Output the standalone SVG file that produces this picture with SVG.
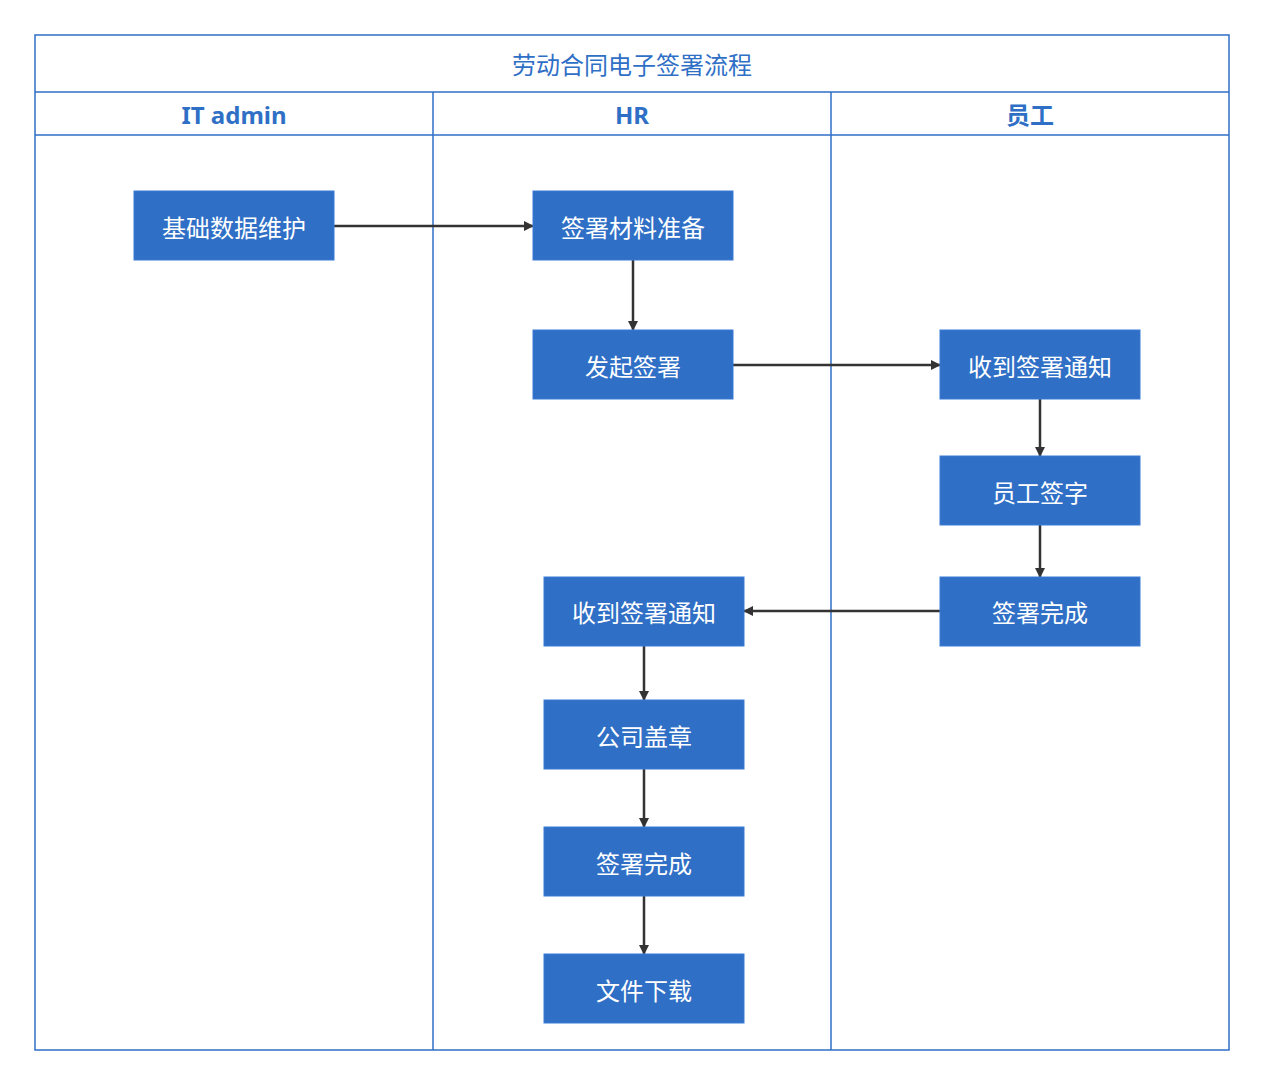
<svg xmlns="http://www.w3.org/2000/svg" width="1265" height="1087" viewBox="0 0 1265 1087">
<style>
.lane{fill:none;stroke:#2f6fc6;stroke-width:1.5}
.n rect{fill:#2f6fc6;stroke:#3a7bd5;stroke-width:1}
.n text{fill:#fff;font-family:"Noto Sans CJK SC",sans-serif;font-size:24px;text-anchor:middle;dominant-baseline:central}
.h{fill:#2f6fc6;font-family:"Noto Sans","Noto Sans CJK SC",sans-serif;text-anchor:middle;dominant-baseline:central}
.c{fill:none;stroke:#333;stroke-width:2.5;marker-end:url(#a)}
</style>
<defs><marker id="a" markerWidth="10" markerHeight="10" refX="9" refY="5" orient="auto" markerUnits="userSpaceOnUse"><path d="M0,0 L10,5 L0,10 z" fill="#333"/></marker></defs>
<rect width="1265" height="1087" fill="#fff"/>
<g id="pool">
<rect class="lane" x="35" y="35" width="1194" height="1015"/>
<line class="lane" x1="35" y1="92" x2="1229" y2="92"/>
<line class="lane" x1="35" y1="135" x2="1229" y2="135"/>
<line class="lane" x1="433" y1="92" x2="433" y2="1050"/>
<line class="lane" x1="831" y1="92" x2="831" y2="1050"/>
<text class="h" x="632" y="64" font-size="24">劳动合同电子签署流程</text>
<text class="h" x="234" y="114" font-size="24" font-weight="bold">IT admin</text>
<text class="h" x="632" y="114" font-size="24" font-weight="bold">HR</text>
<text class="h" x="1030" y="114" font-size="24" font-weight="bold">员工</text>
</g>
<g id="connectors">
<path class="c" d="M334,226 H533"/>
<path class="c" d="M633,260 V330"/>
<path class="c" d="M733,365 H940"/>
<path class="c" d="M1040,399 V456"/>
<path class="c" d="M1040,525 V577"/>
<path class="c" d="M940,611 H744"/>
<path class="c" d="M644,646 V700"/>
<path class="c" d="M644,769 V827"/>
<path class="c" d="M644,896 V954"/>
</g>
<g id="n1" class="n"><rect x="134" y="191" width="200" height="69"/><text x="234" y="226">基础数据维护</text></g>
<g id="n2" class="n"><rect x="533" y="191" width="200" height="69"/><text x="633" y="226">签署材料准备</text></g>
<g id="n3" class="n"><rect x="533" y="330" width="200" height="69"/><text x="633" y="365">发起签署</text></g>
<g id="n4" class="n"><rect x="940" y="330" width="200" height="69"/><text x="1040" y="365">收到签署通知</text></g>
<g id="n5" class="n"><rect x="940" y="456" width="200" height="69"/><text x="1040" y="491">员工签字</text></g>
<g id="n6" class="n"><rect x="940" y="577" width="200" height="69"/><text x="1040" y="611">签署完成</text></g>
<g id="n7" class="n"><rect x="544" y="577" width="200" height="69"/><text x="644" y="611">收到签署通知</text></g>
<g id="n8" class="n"><rect x="544" y="700" width="200" height="69"/><text x="644" y="735">公司盖章</text></g>
<g id="n9" class="n"><rect x="544" y="827" width="200" height="69"/><text x="644" y="862">签署完成</text></g>
<g id="n10" class="n"><rect x="544" y="954" width="200" height="69"/><text x="644" y="989">文件下载</text></g>
</svg>
